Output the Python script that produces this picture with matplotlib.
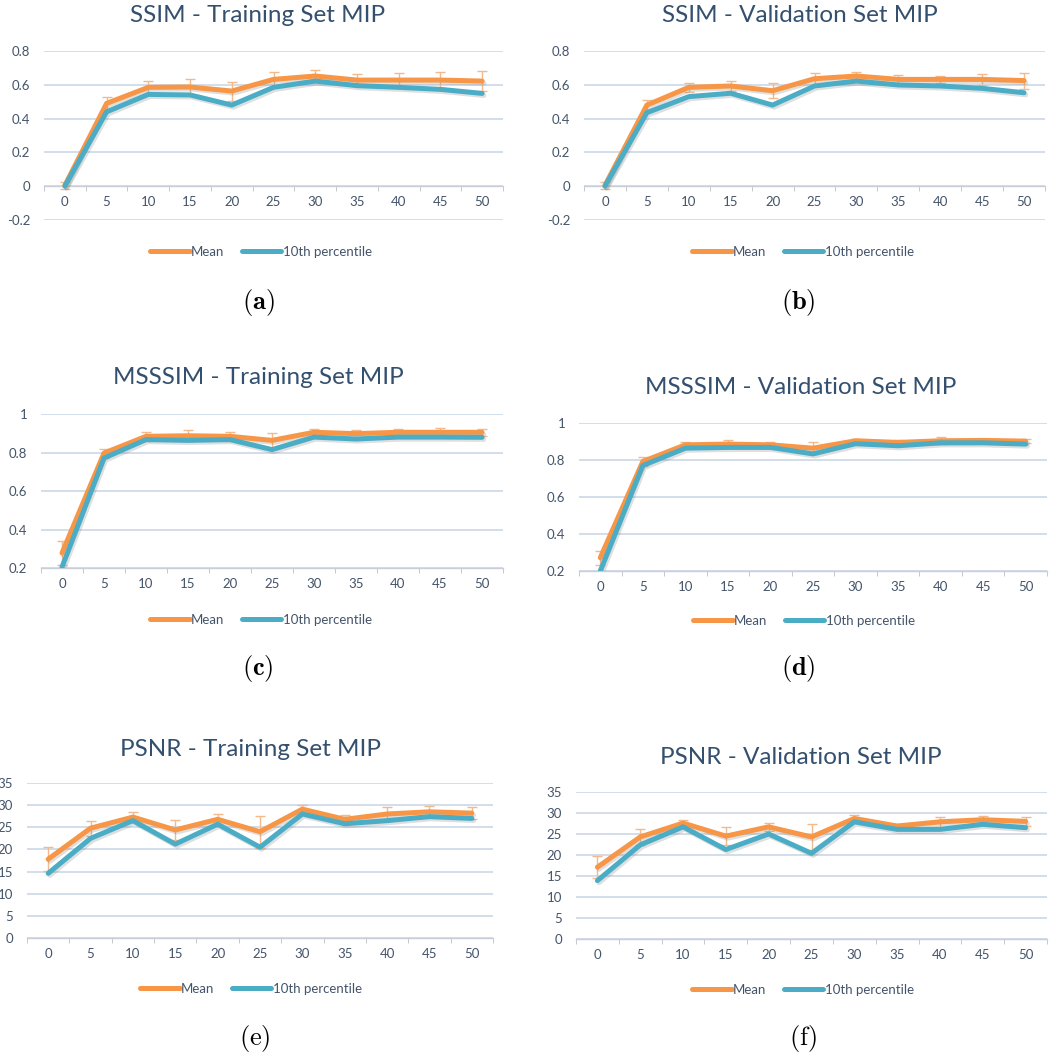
import numpy as np
import matplotlib
matplotlib.use('Agg')
from matplotlib import pyplot as plt
import matplotlib.patheffects as pe

# ---- data ----
epochs = ['0', '5', '10', '15', '20', '25', '30', '35', '40', '45', '50']

ssim_train_mean = [0.005, 0.49, 0.585, 0.587, 0.563, 0.632, 0.652, 0.628, 0.628, 0.628, 0.622]
ssim_train_sd = [0.02, 0.04, 0.04, 0.047, 0.056, 0.046, 0.036, 0.036, 0.044, 0.046, 0.058]
ssim_train_p10 = [0.0, 0.44, 0.543, 0.54, 0.48, 0.585, 0.622, 0.595, 0.585, 0.573, 0.549]

ssim_val_mean = [0.005, 0.48, 0.585, 0.593, 0.565, 0.636, 0.652, 0.632, 0.632, 0.632, 0.625]
ssim_val_sd = [0.02, 0.03, 0.028, 0.032, 0.045, 0.036, 0.026, 0.026, 0.02, 0.032, 0.047]
ssim_val_p10 = [0.0, 0.435, 0.53, 0.55, 0.48, 0.593, 0.622, 0.599, 0.593, 0.579, 0.553]

msssim_train_mean = [0.278, 0.797, 0.884, 0.887, 0.884, 0.863, 0.905, 0.898, 0.905, 0.905, 0.905]
msssim_train_sd = [0.06, 0.023, 0.024, 0.028, 0.024, 0.038, 0.019, 0.021, 0.017, 0.022, 0.019]
msssim_train_p10 = [0.205, 0.771, 0.867, 0.863, 0.867, 0.815, 0.88, 0.87, 0.88, 0.88, 0.879]

msssim_val_mean = [0.272, 0.792, 0.882, 0.886, 0.882, 0.864, 0.904, 0.895, 0.904, 0.906, 0.902]
msssim_val_sd = [0.037, 0.023, 0.015, 0.022, 0.015, 0.031, 0.011, 0.013, 0.02, 0.007, 0.011]
msssim_val_p10 = [0.2, 0.77, 0.864, 0.868, 0.868, 0.833, 0.888, 0.877, 0.893, 0.893, 0.886]

psnr_train_mean = [17.8, 24.8, 27.3, 24.4, 26.8, 24.0, 29.1, 26.8, 28.0, 28.5, 28.2]
psnr_train_sd = [2.7, 1.7, 1.2, 2.3, 1.2, 3.6, 1.0, 1.0, 1.5, 1.2, 1.4]
psnr_train_p10 = [14.6, 22.5, 26.5, 21.2, 25.7, 20.5, 28.0, 25.8, 26.5, 27.4, 27.0]

psnr_val_mean = [17.1, 24.3, 27.6, 24.5, 26.7, 24.3, 28.7, 26.9, 27.9, 28.4, 28.0]
psnr_val_sd = [2.6, 1.8, 0.7, 2.2, 0.9, 3.2, 0.9, 0.6, 1.2, 0.8, 1.1]
psnr_val_p10 = [13.9, 22.4, 26.7, 21.3, 25.0, 20.4, 27.9, 26.1, 26.1, 27.3, 26.5]

ssim_ticks = [-0.2, 0, 0.2, 0.4, 0.6, 0.8]
ssim_ticklabels = ['-0.2', '0', '0.2', '0.4', '0.6', '0.8']
msssim_ticks = [0.2, 0.4, 0.6, 0.8, 1.0]
msssim_ticklabels = ['0.2', '0.4', '0.6', '0.8', '1']
psnr_ticks = [0, 5, 10, 15, 20, 25, 30, 35]
psnr_ticklabels = ['0', '5', '10', '15', '20', '25', '30', '35']

ORANGE = '#F79646'
TEAL = '#4BACC6'
ERR = '#F4B98A'
GRID = '#D3DDEA'
TXT = '#44546A'
TITLE = '#34506F'

W, H = 1052, 1057


def box(left, right, top, bottom):
    return [left / W, 1 - bottom / H, (right - left) / W, (bottom - top) / H]


def panel(fig, rect, title, title_xy, legend_xy, caption, caption_xy,
          mean, sd, p10, ticks, ticklabels, cross):
    ax = fig.add_axes(rect)
    x = np.arange(len(epochs))
    shadow = [pe.SimpleLineShadow(offset=(1.2, -1.5), alpha=0.25, shadow_color='gray'), pe.Normal()]

    # error bars sit behind the lines, so only the parts sticking out show
    ax.errorbar(x, mean, yerr=sd, fmt='none', ecolor=ERR, elinewidth=1.0,
                capsize=3.5, capthick=1.0, zorder=2)
    ax.plot(x, mean, color=ORANGE, lw=3.6, solid_capstyle='round',
            label='Mean', path_effects=shadow, zorder=3)
    ax.plot(x, p10, color=TEAL, lw=3.6, solid_capstyle='round',
            label='10th percentile', path_effects=shadow, zorder=3)

    ax.set_xlim(-0.5, len(epochs) - 0.5)
    ax.set_ylim(ticks[0], ticks[-1])
    ax.set_yticks(ticks)
    ax.set_yticklabels(ticklabels)
    ax.yaxis.grid(True, color=GRID, lw=1.4)
    ax.set_axisbelow(True)

    for s in ['left', 'right', 'top']:
        ax.spines[s].set_visible(False)
    ax.spines['bottom'].set_position(('data', cross))
    ax.spines['bottom'].set_color('#C9CFD8')
    ax.spines['bottom'].set_linewidth(1.0)

    ax.set_xticks(x)
    ax.set_xticklabels(epochs)
    ax.set_xticks(np.arange(len(epochs) + 1) - 0.5, minor=True)
    ax.tick_params(axis='x', which='major', length=0, pad=7, labelsize=9.5, labelcolor=TXT)
    ax.tick_params(axis='x', which='minor', length=3.5, color='#B8BFC9', direction='out')
    ax.tick_params(axis='y', length=0, pad=10, labelsize=9.5, labelcolor=TXT)

    for lbl in ax.get_xticklabels() + ax.get_yticklabels():
        lbl.set_fontfamily('Lato')

    fig.text(title_xy[0] / W, 1 - title_xy[1] / H, title, ha='center', va='center',
             fontsize=17.5, color=TITLE, family='Lato')
    leg = ax.legend(loc='center', bbox_to_anchor=(legend_xy[0] / W, 1 - legend_xy[1] / H),
                    bbox_transform=fig.transFigure, ncol=2, frameon=False,
                    handlelength=3.0, handletextpad=0.1, columnspacing=1.3,
                    prop={'family': 'Lato', 'size': 9.5})
    for t in leg.get_texts():
        t.set_color(TXT)
    for h in leg.legend_handles:
        h.set_path_effects([])
        h.set_linewidth(3.6)
    fig.text(caption_xy[0] / W, 1 - caption_xy[1] / H, caption, ha='center', va='center',
             fontsize=19, color='black')
    return ax


def main():
    plt.rcParams['mathtext.fontset'] = 'cm'
    fig = plt.figure(figsize=(W / 100, H / 100), dpi=100)

    panel(fig, box(44, 503, 51, 220), 'SSIM - Training Set MIP', (258, 16), (261, 252),
          r'$\mathbf{(a)}$', (258, 302),
          ssim_train_mean, ssim_train_sd, ssim_train_p10, ssim_ticks, ssim_ticklabels, 0)
    panel(fig, box(584, 1045, 51, 220), 'SSIM - Validation Set MIP', (800, 16), (803, 252),
          r'$\mathbf{(b)}$', (798, 302),
          ssim_val_mean, ssim_val_sd, ssim_val_p10, ssim_ticks, ssim_ticklabels, 0)
    panel(fig, box(41, 503, 414, 568), 'MSSSIM - Training Set MIP', (258, 378), (261, 620),
          r'$\mathbf{(c)}$', (258, 668),
          msssim_train_mean, msssim_train_sd, msssim_train_p10, msssim_ticks, msssim_ticklabels, 0.2)
    panel(fig, box(579, 1047, 423, 571), 'MSSSIM - Validation Set MIP', (801, 388), (804, 621),
          r'$\mathbf{(d)}$', (798, 668),
          msssim_val_mean, msssim_val_sd, msssim_val_p10, msssim_ticks, msssim_ticklabels, 0.2)
    panel(fig, box(27, 493, 783, 938), 'PSNR - Training Set MIP', (250, 750), (251, 989),
          r'$\mathrm{(e)}$', (255, 1038),
          psnr_train_mean, psnr_train_sd, psnr_train_p10, psnr_ticks, psnr_ticklabels, 0)
    panel(fig, box(576, 1047, 792, 939), 'PSNR - Validation Set MIP', (801, 757), (803, 990),
          r'$\mathrm{(f)}$', (803, 1038),
          psnr_val_mean, psnr_val_sd, psnr_val_p10, psnr_ticks, psnr_ticklabels, 0)

    fig.savefig('out.png', dpi=100, facecolor='white')


if __name__ == '__main__':
    main()
